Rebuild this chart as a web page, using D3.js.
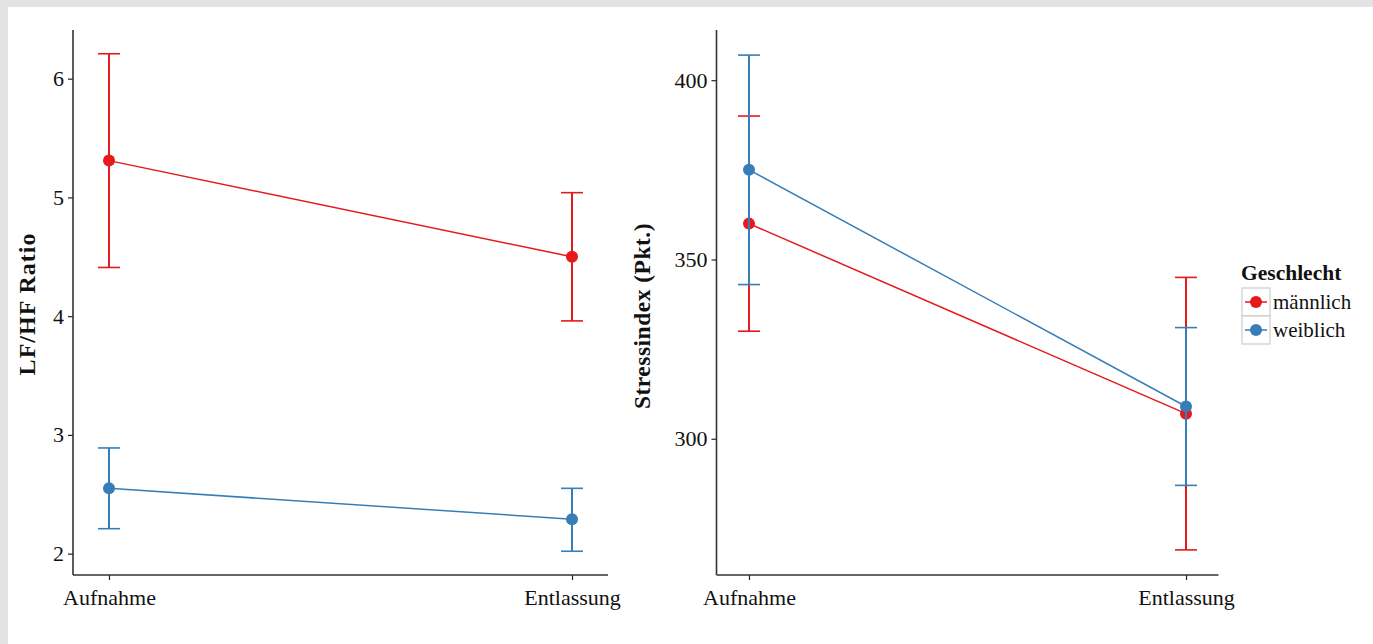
<!DOCTYPE html>
<html>
<head>
<meta charset="utf-8">
<script src="https://cdn.jsdelivr.net/npm/d3@7"></script>
<style>
  body { margin: 0; background: #e3e2e4; }
  svg { display: block; }
  text { font-family: "Liberation Serif", "DejaVu Serif", serif; }
</style>
</head>
<body>
<svg id="chart"></svg>
<script>
// data
var zeitpunkte = ["Aufnahme", "Entlassung"];
var gruppen = ["männlich", "weiblich"];
var farben = ["#E41A1C", "#377EB8"];

var lfhfMittel = { "männlich": [5.31, 4.50], "weiblich": [2.55, 2.29] };
var lfhfUnten  = { "männlich": [4.41, 3.96], "weiblich": [2.21, 2.02] };
var lfhfOben   = { "männlich": [6.21, 5.04], "weiblich": [2.89, 2.55] };
var lfhfTicks = [2, 3, 4, 5, 6];

var stressMittel = { "männlich": [360, 307], "weiblich": [375, 309] };
var stressUnten  = { "männlich": [330, 269], "weiblich": [343, 287] };
var stressOben   = { "männlich": [390, 345], "weiblich": [407, 331] };
var stressTicks = [300, 350, 400];

var W = 1373, H = 644;
var svg = d3.select("#chart").attr("width", W).attr("height", H);

svg.append("rect")
  .attr("x", 8).attr("y", 7)
  .attr("width", W - 8).attr("height", H - 7)
  .style("fill", "#ffffff");

var color = d3.scaleOrdinal().domain(gruppen).range(farben);

var panel = function(opt) {
  var x = d3.scalePoint()
    .domain(zeitpunkte)
    .range([opt.x0 + opt.pad, opt.x1 - opt.pad]);
  var y = d3.scaleLinear()
    .domain(opt.domain)
    .range([575, 30]);

  var g = svg.append("g");

  // axes
  var yAxis = d3.axisLeft(y).tickValues(opt.ticks).tickFormat(d3.format("d"))
    .tickSize(5).tickPadding(4);
  var yg = g.append("g")
    .attr("transform", "translate(" + opt.x0 + ",0)")
    .call(yAxis);
  var xAxis = d3.axisBottom(x).tickSize(5).tickPadding(6);
  var xg = g.append("g")
    .attr("transform", "translate(0,575)")
    .call(xAxis);

  [yg, xg].forEach(function(a) {
    a.select(".domain").remove();
    a.selectAll(".tick line").style("stroke", "#222").style("stroke-width", 1.2);
    a.selectAll(".tick text")
      .style("font-size", "22px")
      .style("fill", "#111");
  });
  xg.selectAll(".tick text").attr("dy", "0.85em");

  g.append("line")
    .attr("x1", opt.x0).attr("x2", opt.x0)
    .attr("y1", 30).attr("y2", 575)
    .style("stroke", "#333").style("stroke-width", 1.6);
  g.append("line")
    .attr("x1", opt.x0).attr("x2", opt.x1)
    .attr("y1", 575).attr("y2", 575)
    .style("stroke", "#333").style("stroke-width", 1.6);

  g.append("text")
    .attr("transform", "translate(" + opt.titleX + "," + opt.titleY + ") rotate(-90)")
    .style("text-anchor", "middle")
    .style("font-size", opt.titleSize)
    .style("letter-spacing", opt.titleSpacing)
    .style("font-weight", "bold")
    .style("fill", "#111")
    .text(opt.title);

  gruppen.forEach(function(grp) {
    var col = color(grp);
    var rows = zeitpunkte.map(function(z, i) {
      return { z: z, m: opt.mean[grp][i], lo: opt.lo[grp][i], hi: opt.hi[grp][i] };
    });

    var line = d3.line()
      .x(function(d) { return x(d.z); })
      .y(function(d) { return y(d.m); });
    g.append("path")
      .datum(rows)
      .attr("d", line)
      .style("fill", "none")
      .style("stroke", col)
      .style("stroke-width", 1.5);

    var eb = g.selectAll(null).data(rows).enter().append("g");
    eb.append("line")
      .attr("x1", function(d) { return x(d.z); })
      .attr("x2", function(d) { return x(d.z); })
      .attr("y1", function(d) { return y(d.lo); })
      .attr("y2", function(d) { return y(d.hi); })
      .style("stroke", col).style("stroke-width", 2);
    ["lo", "hi"].forEach(function(k) {
      eb.append("line")
        .attr("x1", function(d) { return x(d.z) - 11; })
        .attr("x2", function(d) { return x(d.z) + 11; })
        .attr("y1", function(d) { return y(d[k]); })
        .attr("y2", function(d) { return y(d[k]); })
        .style("stroke", col).style("stroke-width", 1.6);
    });
    eb.append("circle")
      .attr("cx", function(d) { return x(d.z); })
      .attr("cy", function(d) { return y(d.m); })
      .attr("r", 6)
      .style("fill", col);
  });
};

panel({
  x0: 73, x1: 608, pad: 36,
  domain: [1.82, 6.41],
  ticks: lfhfTicks,
  mean: lfhfMittel, lo: lfhfUnten, hi: lfhfOben,
  title: "LF/HF Ratio", titleX: 35, titleY: 304,
  titleSize: "24px", titleSpacing: "1px"
});

panel({
  x0: 716.5, x1: 1218.5, pad: 32.5,
  domain: [262, 414],
  ticks: stressTicks,
  mean: stressMittel, lo: stressUnten, hi: stressOben,
  title: "Stressindex (Pkt.)", titleX: 650, titleY: 316,
  titleSize: "23.5px", titleSpacing: "0.5px"
});

// legend
var legend = svg.append("g").attr("transform", "translate(1241,0)");
legend.append("text")
  .attr("x", 0).attr("y", 280)
  .style("font-size", "21.5px")
  .style("font-weight", "bold")
  .style("fill", "#111")
  .text("Geschlecht");

var item = legend.selectAll(".item")
  .data(gruppen)
  .enter().append("g")
  .attr("class", "item")
  .attr("transform", function(d, i) { return "translate(1," + (288 + i * 28) + ")"; });
item.append("rect")
  .attr("width", 28).attr("height", 28)
  .style("fill", "#ffffff")
  .style("stroke", "#cccccc")
  .style("stroke-width", 1.2);
item.append("line")
  .attr("x1", 3).attr("x2", 25)
  .attr("y1", 14).attr("y2", 14)
  .style("stroke", color).style("stroke-width", 1.5);
item.append("circle")
  .attr("cx", 14).attr("cy", 14).attr("r", 6)
  .style("fill", color);
item.append("text")
  .attr("x", 31).attr("y", 14)
  .attr("dy", "0.35em")
  .style("font-size", "21px")
  .style("fill", "#111")
  .text(function(d) { return d; });
</script>
</body>
</html>
